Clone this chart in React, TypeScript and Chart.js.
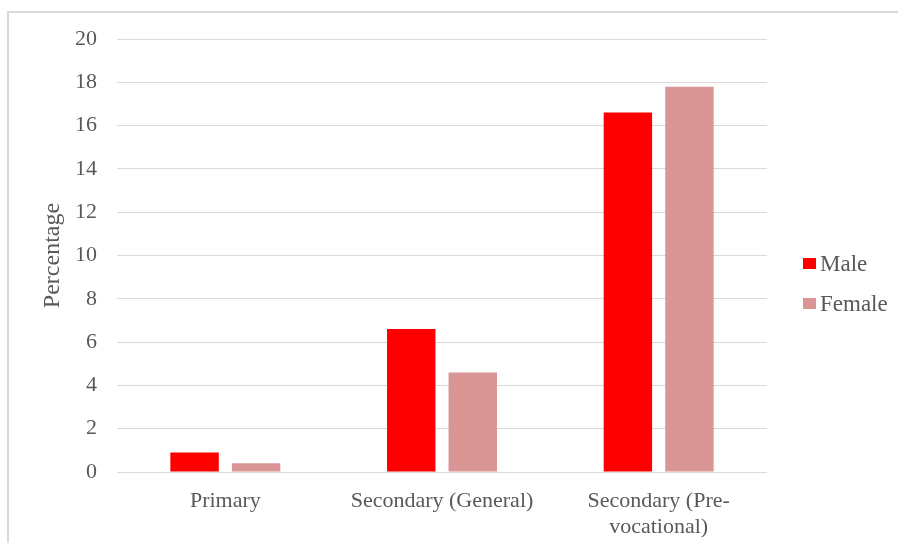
import React, { useEffect, useRef } from "react";
import { Chart, registerables } from "chart.js";

Chart.register(...registerables);

// Share of pupils (%) by school level and sex
const categories: (string | string[])[] = [
  "Primary",
  "Secondary (General)",
  ["Secondary (Pre-", "vocational)"],
];
const maleValues = [0.9, 6.6, 16.6];
const femaleValues = [0.4, 4.6, 17.8];
const seriesNames = ["Male", "Female"];
const yTicks = [0, 2, 4, 6, 8, 10, 12, 14, 16, 18, 20];

const FONT = "'Liberation Serif', 'Times New Roman', serif";
const TEXT = "#595959";
const GRID = "#d9d9d9";

// Legend drawn on the canvas to the right of the plot area
const sideLegend = {
  id: "sideLegend",
  afterDraw(chart: Chart) {
    const ctx = chart.ctx;
    ctx.save();
    ctx.font = `23px ${FONT}`;
    ctx.textBaseline = "middle";
    ctx.textAlign = "left";
    chart.data.datasets.forEach((ds, i) => {
      const y = 264 + i * 40;
      ctx.fillStyle = ds.backgroundColor as string;
      ctx.fillRect(803, y - 6, 13, 11);
      ctx.fillStyle = TEXT;
      ctx.fillText(ds.label as string, 820, y + 1);
    });
    ctx.restore();
  },
};

export default function App() {
  const ref = useRef<HTMLCanvasElement>(null);

  useEffect(() => {
    if (!ref.current) return;
    const chart = new Chart(ref.current, {
      type: "bar",
      data: {
        labels: categories,
        datasets: [
          {
            label: seriesNames[0],
            data: maleValues,
            backgroundColor: "#ff0000",
            categoryPercentage: 0.568,
            barPercentage: 0.787,
          },
          {
            label: seriesNames[1],
            data: femaleValues,
            backgroundColor: "#d99694",
            categoryPercentage: 0.568,
            barPercentage: 0.787,
          },
        ],
      },
      options: {
        animation: false,
        responsive: false,
        layout: { padding: { top: 39, right: 131, left: 0, bottom: 0 } },
        plugins: {
          legend: { display: false },
          tooltip: { enabled: false },
        },
        scales: {
          x: {
            grid: { display: false, drawTicks: false },
            border: { display: false },
            ticks: {
              color: TEXT,
              font: { family: FONT, size: 22, lineHeight: 1.15 },
              padding: 17,
              maxRotation: 0,
              autoSkip: false,
            },
            afterFit: (s: any) => {
              s.height = 71;
            },
          },
          y: {
            min: 0,
            max: 20,
            afterBuildTicks: (s: any) => {
              s.ticks = yTicks.map((v) => ({ value: v }));
            },
            grid: { color: GRID, lineWidth: 1, drawTicks: false },
            border: { display: false },
            ticks: {
              color: TEXT,
              font: { family: FONT, size: 22 },
              padding: 20,
            },
            title: {
              display: true,
              text: "Percentage",
              color: TEXT,
              font: { family: FONT, size: 24 },
              padding: { top: 38, bottom: 0 },
            },
            afterFit: (s: any) => {
              s.width = 117;
            },
          },
        },
      },
      plugins: [sideLegend],
    });
    return () => chart.destroy();
  }, []);

  return (
    <div style={{ position: "absolute", left: 0, top: 0, width: 898, height: 543, background: "#fff", overflow: "hidden" }}>
      <div
        style={{
          position: "absolute",
          left: 7,
          top: 11,
          width: 900,
          height: 600,
          borderLeft: `2px solid ${GRID}`,
          borderTop: `2px solid ${GRID}`,
        }}
      />
      <canvas ref={ref} width={898} height={543} style={{ position: "absolute", left: 0, top: 0 }} />
    </div>
  );
}
